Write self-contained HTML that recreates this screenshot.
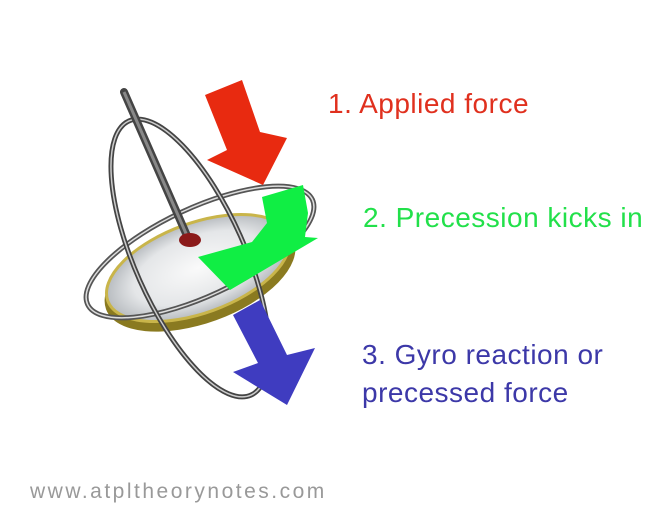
<!DOCTYPE html>
<html><head><style>
body{margin:0;width:672px;height:521px;background:#fff;overflow:hidden;position:relative;font-family:"Liberation Sans",sans-serif}
.t{position:absolute;font-size:28px;white-space:nowrap;line-height:32px;letter-spacing:0.5px}
</style></head><body>
<svg width="672" height="521" style="position:absolute;left:0;top:0">
<defs>
<radialGradient id="d" cx="50%" cy="50%" r="50%"><stop offset="0" stop-color="#fafafa"/><stop offset="0.7" stop-color="#e4e6e8"/><stop offset="1" stop-color="#b8bcc0"/></radialGradient>
</defs>
<ellipse cx="200" cy="275" rx="100" ry="48" transform="rotate(-20 200 275)" fill="#8a7a20"/>
<ellipse cx="198" cy="268" rx="96" ry="45" transform="rotate(-20 198 268)" fill="url(#d)" stroke="#c9b54a" stroke-width="3"/>
<ellipse cx="200" cy="252" rx="124" ry="44" transform="rotate(-25 200 252)" fill="none" stroke="#555" stroke-width="5"/>
<ellipse cx="200" cy="252" rx="124" ry="44" transform="rotate(-25 200 252)" fill="none" stroke="#ddd" stroke-width="1.5"/>
<ellipse cx="190" cy="258" rx="150" ry="55" transform="rotate(66 190 258)" fill="none" stroke="#444" stroke-width="5"/>
<ellipse cx="190" cy="258" rx="150" ry="55" transform="rotate(66 190 258)" fill="none" stroke="#ccc" stroke-width="1.5"/>
<line x1="124" y1="92" x2="188" y2="238" stroke="#444" stroke-width="8" stroke-linecap="round"/>
<line x1="124" y1="92" x2="188" y2="238" stroke="#888" stroke-width="3"/>
<ellipse cx="190" cy="240" rx="11" ry="7" fill="#8b1a1a"/>
<polygon points="205,95 242,80 260,132 287,138 263,185 207,160 227,150" fill="#e82a10"/>
<polygon points="262,197 303,185 308,213 305,237 318,238 230,290 198,257 252,242 267,223" fill="#10ee44"/>
<polygon points="233,315 260,300 287,355 315,348 287,405 233,372 258,363" fill="#3f3cc0"/>
</svg>
<div class="t" style="left:328px;top:88px;color:#e0301e">1. Applied force</div>
<div class="t" style="left:363px;top:202px;color:#22e04a">2. Precession kicks in</div>
<div class="t" style="left:362px;top:339px;color:#3c38a8">3. Gyro reaction or</div>
<div class="t" style="left:362px;top:377px;color:#3c38a8">precessed force</div>
<div class="t" style="left:30px;top:476px;font-size:21px;color:#999;letter-spacing:2.5px">www.atpltheorynotes.com</div>
</body></html>
